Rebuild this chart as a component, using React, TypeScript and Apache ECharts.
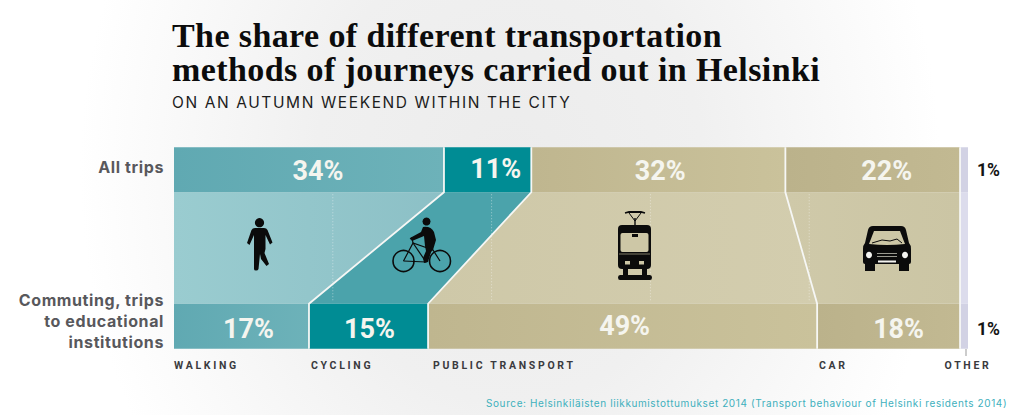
import React, { useEffect, useRef } from "react";
import * as echarts from "echarts";

const categories = ["All trips", "Commuting, trips\nto educational\ninstitutions"];
const modes = ["WALKING", "CYCLING", "PUBLIC TRANSPORT", "CAR", "OTHER"];
const walking = [34, 17];
const cycling = [11, 15];
const publicTransport = [32, 49];
const car = [22, 18];
const other = [1, 1];
const gridValues = [20, 40, 60, 80];

const title = "The share of different transportation\nmethods of journeys carried out in Helsinki";
const subtitle = "ON AN AUTUMN WEEKEND WITHIN THE CITY";
const source = "Source: Helsinkiläisten liikkumistottumukset 2014 (Transport behaviour of Helsinki residents 2014)";

// layout and style
const BAR_H = 45;
const barColors = [
  ["#60a9b2", "#6db2b9"],
  ["#008c94", "#008c94"],
  ["#bfb68f", "#cac29b"],
  ["#bbb28b", "#c2b992"],
  ["#d2d2e4", "#d2d2e4"],
];
const bandColors = [
  ["#9accd0", "#8cc0c6"],
  ["#4ba3ab", "#4ba3ab"],
  ["#cec8a8", "#d3cdae"],
  ["#cfc9a9", "#cbc5a4"],
  ["#dcdcec", "#dcdcec"],
];
const labelOffsets = [
  [[9, 1], [7, 3]],
  [[8, -1], [1, 3]],
  [[2, 1], [2, 0]],
  [[14, 1], [10, 3]],
  [[0, 0], [0, 3]],
];
const modeLabelX = [174, 311, 433, 819, 968];
const categoryLabelY = [167, 321];
const BAND_ICON = "#cdc7a6";

const series5 = [walking, cycling, publicTransport, car, other];

const cumulative = (row: number) => {
  let t = 0;
  return series5.map((s) => {
    const start = t;
    t += s[row];
    return [start, t];
  });
};

echarts.graphic.registerShape(
  "iconWalker",
  echarts.graphic.extendPath(
    "M8,10H17Q19.5,10 20.5,12L25.5,24.5L23,26.5L18.5,17V31L17.5,35L22,46L19.5,48L14,41L13,36L11.5,51Q11,52.5 9,52.5Q7,52.5 7,51V17L2.5,27L0,25L4.5,12Q5.5,10 8,10Z",
    {}
  )
);
echarts.graphic.registerShape(
  "iconRider",
  echarts.graphic.extendPath(
    "M423,227Q431,226 434,232L436,240L433,250L431,252L428,262L424,263L423,258L426,251L425,246L424,236L412,241L410,238L421,232Z",
    {}
  )
);
echarts.graphic.registerShape(
  "iconTram",
  echarts.graphic.extendPath(
    "M618,229Q618,225 622,225H647Q651,225 651,229V265Q651,269 647,269H622Q618,269 618,265Z",
    {}
  )
);
echarts.graphic.registerShape(
  "iconTramRail",
  echarts.graphic.extendPath(
    "M623,269H628V275H642V269H647V275H650Q652,275 652,277.5Q652,280 650,280H620Q618,280 618,277.5Q618,275 620,275H623Z",
    {}
  )
);
echarts.graphic.registerShape(
  "iconCar",
  echarts.graphic.extendPath(
    "M873,226H901Q905,226 906,230L909,243Q911,245 911,249V262Q911,264 909,264V271H899V264H875V271H865V264Q863,264 863,262V249Q863,245 865,243L868,230Q869,226 873,226Z",
    {}
  )
);
echarts.graphic.registerShape(
  "iconWindshield",
  echarts.graphic.extendPath("M874,231H900L905,244Q887,246 869,244Z", {})
);

const gradient = (c: string[]) =>
  new echarts.graphic.LinearGradient(0, 0, 1, 0, [
    { offset: 0, color: c[0] },
    { offset: 1, color: c[1] },
  ]);

const black = { fill: "#0b0b0b" };
const lineBlack = { stroke: "#0b0b0b", lineWidth: 1.6, fill: "none" };
const thin = { stroke: "#0b0b0b", lineWidth: 1.2, fill: "none" };

const icons: any[] = [
  { type: "circle", shape: { cx: 259.5, cy: 222.7, r: 4.6 }, style: black },
  { type: "iconWalker", x: 247, y: 218, style: black },
  { type: "circle", shape: { cx: 403.5, cy: 261, r: 10.5 }, style: lineBlack },
  { type: "circle", shape: { cx: 440, cy: 261, r: 10.5 }, style: lineBlack },
  { type: "circle", shape: { cx: 426.5, cy: 221.5, r: 4 }, style: black },
  { type: "polyline", shape: { points: [[403.5, 261], [413, 243], [433, 250], [440, 261]] }, style: thin },
  { type: "polyline", shape: { points: [[403.5, 261], [426, 262], [431, 250]] }, style: thin },
  { type: "polyline", shape: { points: [[413, 243], [426, 262]] }, style: thin },
  { type: "polyline", shape: { points: [[410, 239], [412, 238], [413, 243]] }, style: thin },
  { type: "iconRider", style: black },
  { type: "polyline", shape: { points: [[625, 213], [629, 212], [641, 212], [645, 213]] }, style: { stroke: "#0b0b0b", lineWidth: 1.8, fill: "none" } },
  { type: "polyline", shape: { points: [[629, 213], [635, 221], [641, 213]] }, style: { stroke: "#0b0b0b", lineWidth: 1, fill: "none" } },
  { type: "line", shape: { x1: 635, x2: 635, y1: 218, y2: 226 }, style: { stroke: "#0b0b0b", lineWidth: 1.4 } },
  { type: "iconTram", style: black },
  { type: "iconTramRail", style: black },
  { type: "rect", shape: { x: 620.5, y: 233, width: 28, height: 19, r: 2 }, style: { fill: BAND_ICON } },
  { type: "rect", shape: { x: 632, y: 234, width: 6, height: 3 }, style: black },
  { type: "line", shape: { x1: 619, x2: 650, y1: 254, y2: 254 }, style: { stroke: BAND_ICON, lineWidth: 0.6 } },
  { type: "rect", shape: { x: 625, y: 261, width: 5, height: 3.5 }, style: { fill: BAND_ICON } },
  { type: "rect", shape: { x: 639, y: 261, width: 5, height: 3.5 }, style: { fill: BAND_ICON } },
  { type: "iconCar", style: black },
  { type: "iconWindshield", style: { fill: BAND_ICON } },
  { type: "polyline", shape: { points: [[872, 243], [882, 240], [890, 241], [897, 239], [902, 243]] }, style: { stroke: "#0b0b0b", lineWidth: 1, fill: "none" } },
  { type: "ellipse", shape: { cx: 869, cy: 255, rx: 3, ry: 3.2 }, style: { fill: "#f4f4f0" } },
  { type: "ellipse", shape: { cx: 905, cy: 255, rx: 3, ry: 3.2 }, style: { fill: "#f4f4f0" } },
  { type: "rect", shape: { x: 877, y: 253, width: 20, height: 1 }, style: { fill: "#9a9a90" } },
  { type: "rect", shape: { x: 877, y: 256, width: 20, height: 1 }, style: { fill: "#9a9a90" } },
  { type: "rect", shape: { x: 878, y: 260.5, width: 18, height: 2 }, style: { fill: "#f4f4f0" } },
];

const bandSeries = () => {
  const top = cumulative(0);
  const bot = cumulative(1);
  return {
    type: "custom",
    z: 1,
    silent: true,
    clip: false,
    data: modes.map((_, i) => [top[i][0], top[i][1], bot[i][0], bot[i][1], i]),
    encode: { x: 0 },
    renderItem: (_: any, api: any) => {
      const yTop = api.coord([0, 0])[1] + BAR_H / 2;
      const yBot = api.coord([0, 1])[1] - BAR_H / 2;
      const x = (v: number) => api.coord([v, 0])[0];
      const i = api.value(4);
      return {
        type: "polygon",
        shape: {
          points: [
            [x(api.value(0)), yTop],
            [x(api.value(1)), yTop],
            [x(api.value(3)), yBot],
            [x(api.value(2)), yBot],
          ],
        },
        style: { fill: gradient(bandColors[i]) },
      };
    },
  };
};

const gridlineSeries = () => ({
  type: "custom",
  z: 2,
  silent: true,
  data: gridValues.map((v) => [v, 0]),
  renderItem: (_: any, api: any) => {
    const x = api.coord([api.value(0), 0])[0];
    return {
      type: "line",
      shape: {
        x1: x,
        x2: x,
        y1: api.coord([0, 0])[1] + BAR_H / 2 + 2,
        y2: api.coord([0, 1])[1] - BAR_H / 2 - 2,
      },
      style: { stroke: "rgba(255,255,255,0.45)", lineWidth: 1, lineDash: [1, 2] },
    };
  },
});

const boundarySeries = () => {
  const top = cumulative(0);
  const bot = cumulative(1);
  return {
    type: "custom",
    z: 5,
    silent: true,
    clip: false,
    data: modes.slice(0, 4).map((_, i) => [top[i][1], bot[i][1], 0]),
    renderItem: (_: any, api: any) => {
      const c0 = api.coord([0, 0])[1];
      const c1 = api.coord([0, 1])[1];
      const x0 = api.coord([api.value(0), 0])[0];
      const x1 = api.coord([api.value(1), 0])[0];
      return {
        type: "polyline",
        shape: {
          points: [
            [x0, c0 - BAR_H / 2],
            [x0, c0 + BAR_H / 2],
            [x1, c1 - BAR_H / 2],
            [x1, c1 + BAR_H / 2],
          ],
        },
        style: { stroke: "#f6f7f5", lineWidth: 1.8, fill: "none" },
      };
    },
  };
};

const App = () => {
  const ref = useRef<HTMLDivElement>(null);
  useEffect(() => {
    if (!ref.current) return;
    const chart = echarts.init(ref.current, undefined, { renderer: "svg" });
    chart.setOption({
      animation: false,
      title: [
        {
          text: title,
          left: 172,
          top: 18,
          padding: 0,
          textStyle: { fontFamily: "Liberation Serif", fontWeight: "bold", fontSize: 34, lineHeight: 34, color: "#0c0c0c" },
        },
        {
          text: subtitle,
          left: 172,
          top: 94,
          padding: 0,
          textStyle: { fontFamily: "Inter", fontWeight: "normal", fontSize: 15.5, color: "#1c1c1c" },
        },
        {
          text: source,
          left: 486,
          top: 398,
          padding: 0,
          textStyle: { fontFamily: "Inter", fontWeight: "normal", fontSize: 10, color: "#3eb0bd" },
        },
      ],
      grid: { left: 174, width: 794, top: 91.5, height: 313 },
      xAxis: { type: "value", min: 0, max: 100, show: false },
      yAxis: {
        type: "category",
        data: categories,
        inverse: true,
        axisLine: { show: false },
        axisTick: { show: false },
        axisLabel: { show: false },
      },
      series: [
        bandSeries(),
        gridlineSeries(),
        ...series5.map((values, i) => ({
          type: "bar",
          name: modes[i],
          stack: "all",
          z: 3,
          barWidth: BAR_H,
          silent: true,
          itemStyle: { color: gradient(barColors[i]) },
          data: values.map((v, row) => ({
            value: v,
            label: { offset: labelOffsets[i][row] },
          })),
          label:
            i === 4
              ? {
                  show: true,
                  position: "right",
                  distance: 9,
                  formatter: "{c}%",
                  fontFamily: "Roboto",
                  fontWeight: "bold",
                  fontSize: 17.5,
                  color: "#141414",
                }
              : {
                  show: true,
                  position: "inside",
                  formatter: "{c}%",
                  fontFamily: "Roboto",
                  fontWeight: "bold",
                  fontSize: 27,
                  color: "#f5f5ef",
                },
        })),
        boundarySeries(),
      ],
      graphic: {
        elements: [
          ...icons.map((e) => ({ ...e, z: 20, silent: true })),
          ...categories.map((c, i) => ({
            type: "text",
            x: 164,
            y: categoryLabelY[i],
            z: 20,
            silent: true,
            style: {
              text: c,
              fill: "#58585c",
              font: 'bold 16px "Inter"',
              lineHeight: 21,
              textAlign: "right",
              textVerticalAlign: "middle",
            },
          })),
          ...modes.map((m, i) => ({
            type: "text",
            x: modeLabelX[i],
            y: 365,
            z: 20,
            silent: true,
            style: {
              text: m,
              fill: "#3a3a3e",
              font: 'bold 10.5px "Roboto"',
              textAlign: i === 4 ? "center" : "left",
              textVerticalAlign: "middle",
            },
          })),
          { type: "line", z: 20, silent: true, shape: { x1: 966, x2: 966, y1: 349, y2: 356 }, style: { stroke: "#999", lineWidth: 1 } },
        ],
      },
    });
    return () => chart.dispose();
  }, []);
  return (
    <>
      <style>{`
        html,body{margin:0;padding:0;background:#fff;}
        svg text[style*="10.5px"]{letter-spacing:2.7px;}
        svg text[style*="34px"]{letter-spacing:0.4px;-webkit-text-stroke:0.5px #0c0c0c;}
        svg text[style*="15.5px"]{letter-spacing:1.6px;}
        svg text[style*=" 16px"]{letter-spacing:0.6px;}
        svg text[style*=" 10px"]{letter-spacing:0.6px;}
      `}</style>
      <div
        ref={ref}
        style={{
          width: 1024,
          height: 415,
          background:
            "radial-gradient(ellipse 430px 520px at 510px 170px, #ececec 0%, #f0f0f0 45%, #ffffff 100%)",
        }}
      />
    </>
  );
};

export default App;
